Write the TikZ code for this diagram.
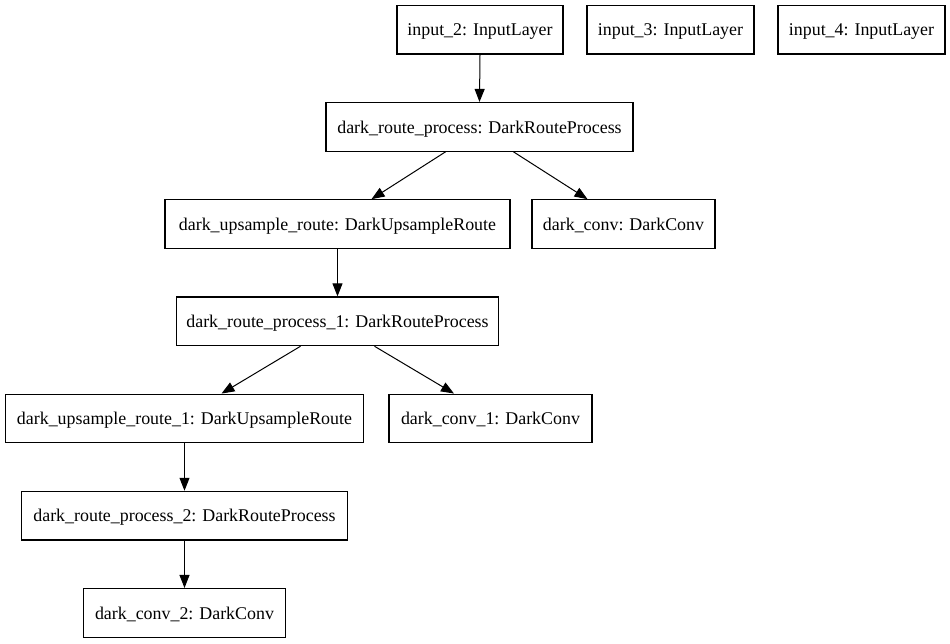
\documentclass[tikz,border=0pt]{standalone}
\usepackage{fontspec}
\setmainfont{Liberation Serif}
\usetikzlibrary{arrows.meta,calc}
\begin{document}
\begin{tikzpicture}[x=1pt,y=-1pt,
  layer/.style={draw=black,line width=1.3pt,rectangle,inner sep=0pt,
    minimum height=48.6pt,minimum width=#1,text depth=0pt,
    font=\fontsize{17.9}{21}\selectfont},
  flow/.style={draw=black,line width=1pt,
    -{Triangle[length=13pt,width=10pt]}}]
\useasboundingbox (0,0) rectangle (950,644);
% top row: the three inputs
\node[layer=166pt] (in2) at (480,29.7) {input\_2: InputLayer};
\node[layer=167pt] (in3) at (670.5,29.7) {input\_3: InputLayer};
\node[layer=167pt] (in4) at (861.5,29.7) {input\_4: InputLayer};
% first route stage
\node[layer=307pt] (drp) at (479.5,126.9) {dark\_route\_process: DarkRouteProcess};
\node[layer=345pt] (dur) at (337.5,224.1) {dark\_upsample\_route: DarkUpsampleRoute};
\node[layer=183pt] (dc) at (623.5,224.1) {dark\_conv: DarkConv};
% second route stage
\node[layer=322pt] (drpa) at (337.5,321.3) {dark\_route\_process\_1: DarkRouteProcess};
\node[layer=358pt] (dura) at (184.5,418.5) {dark\_upsample\_route\_1: DarkUpsampleRoute};
\node[layer=203pt] (dca) at (490.5,418.5) {dark\_conv\_1: DarkConv};
% third route stage
\node[layer=326pt] (drpb) at (184.5,515.7) {dark\_route\_process\_2: DarkRouteProcess};
\node[layer=202pt] (dcb) at (184.5,612.9) {dark\_conv\_2: DarkConv};
% connectors
\draw[flow] (in2.south) -- (drp.north);
\draw[flow] ($(drp.south)+(-34,0)$) -- ($(dur.north)+(34,0)$);
\draw[flow] ($(drp.south)+(34,0)$) -- ($(dc.north)+(-36,0)$);
\draw[flow] (dur.south) -- (drpa.north);
\draw[flow] ($(drpa.south)+(-37,0)$) -- ($(dura.north)+(37,0)$);
\draw[flow] ($(drpa.south)+(37,0)$) -- ($(dca.north)+(-36.5,0)$);
\draw[flow] (dura.south) -- (drpb.north);
\draw[flow] (drpb.south) -- (dcb.north);
\end{tikzpicture}
\end{document}
